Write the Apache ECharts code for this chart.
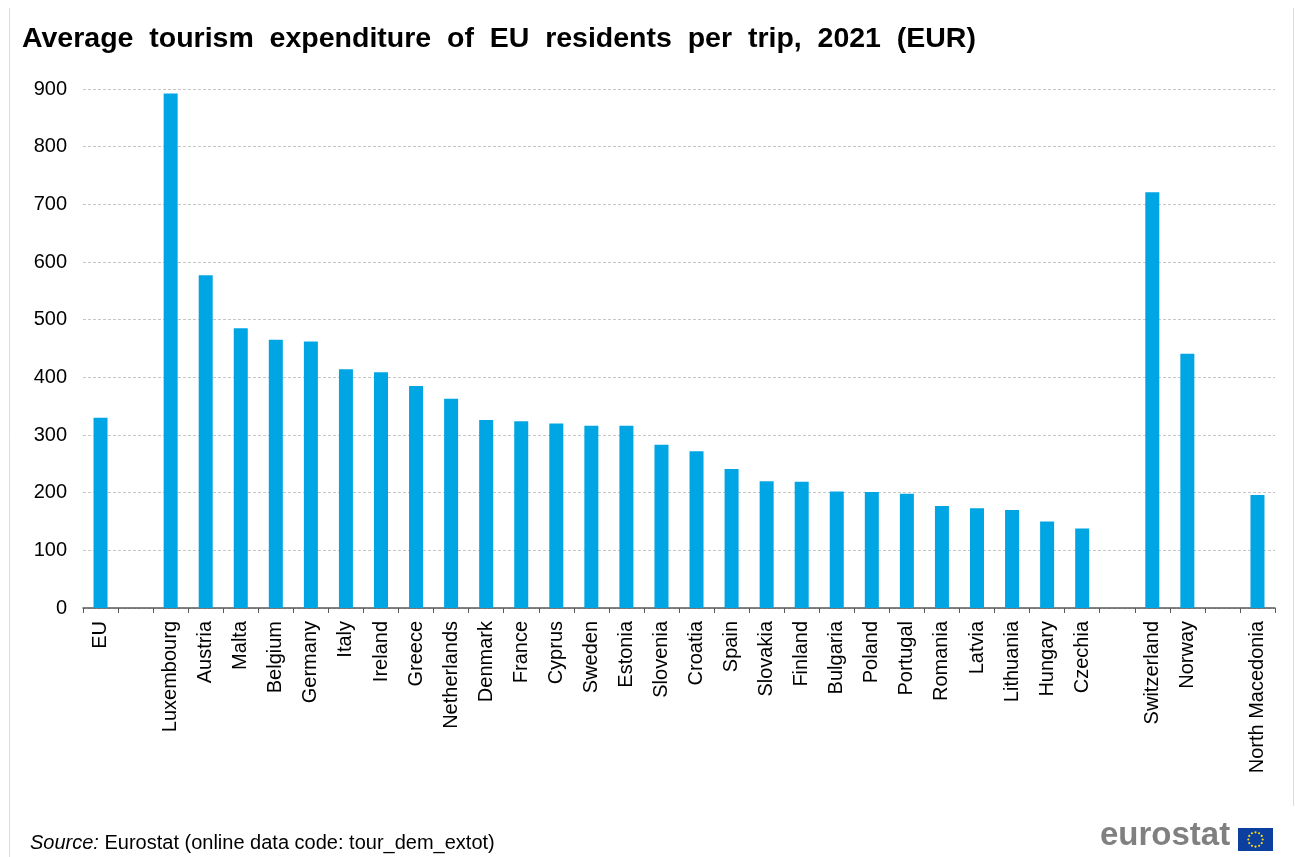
<!DOCTYPE html>
<html>
<head>
<meta charset="utf-8">
<title>Average tourism expenditure of EU residents per trip, 2021 (EUR)</title>
<script src="https://cdn.jsdelivr.net/npm/echarts@6/dist/echarts.min.js"></script>
<style>
  html, body { margin: 0; padding: 0; background: #ffffff; }
  #chart { width: 1295px; height: 857px; }
</style>
</head>
<body>
<div id="chart"></div>
<script>
// Countries in display order; empty strings are spacer slots between groups
const categories = [
  'EU', '',
  'Luxembourg', 'Austria', 'Malta', 'Belgium', 'Germany', 'Italy', 'Ireland',
  'Greece', 'Netherlands', 'Denmark', 'France', 'Cyprus', 'Sweden', 'Estonia',
  'Slovenia', 'Croatia', 'Spain', 'Slovakia', 'Finland', 'Bulgaria', 'Poland',
  'Portugal', 'Romania', 'Latvia', 'Lithuania', 'Hungary', 'Czechia', '',
  'Switzerland', 'Norway', '',
  'North Macedonia'
];

// Average expenditure per trip (EUR); null for the spacer slots
const expenditure = [
  330, null,
  892, 577, 485, 465, 462, 414, 409,
  385, 363, 326, 324, 320, 316, 316,
  283, 272, 241, 220, 219, 202, 201,
  198, 177, 173, 170, 150, 138, null,
  721, 441, null,
  196
];

const yTicks = { min: 0, max: 900, step: 100 };

const FONT = "'Liberation Sans', Arial, Helvetica, sans-serif";

// EU flag stars for the logo
const flagCx = 1255.5, flagCy = 839.5, starRing = 7.2;
const stars = [];
for (let i = 0; i < 12; i++) {
  const a = (i / 12) * Math.PI * 2;
  stars.push({
    type: 'circle',
    shape: { cx: flagCx + starRing * Math.cos(a), cy: flagCy + starRing * Math.sin(a), r: 1.1 },
    style: { fill: '#ffdd00' },
    z: 12
  });
}

const chart = echarts.init(document.getElementById('chart'), null, { renderer: 'canvas' });

chart.setOption({
  backgroundColor: '#ffffff',
  animation: false,
  title: {
    text: 'Average  tourism  expenditure  of  EU  residents  per  trip,  2021  (EUR)',
    left: 17,
    top: 20,
    textStyle: { fontFamily: FONT, fontSize: 28.5, fontWeight: 'bold', color: '#000000' }
  },
  grid: { left: 83, right: 20, top: 89, bottom: 249, containLabel: false },
  xAxis: {
    type: 'category',
    data: categories,
    boundaryGap: true,
    axisLine: { show: true, lineStyle: { color: '#595959', width: 1.5 } },
    axisTick: { show: true, interval: 0, length: 5, lineStyle: { color: '#595959', width: 1 } },
    axisLabel: {
      interval: 0,
      rotate: 90,
      margin: 13,
      fontFamily: FONT,
      fontSize: 20,
      color: '#000000'
    },
    splitLine: { show: false }
  },
  yAxis: {
    type: 'value',
    min: yTicks.min,
    max: yTicks.max,
    interval: yTicks.step,
    axisLine: { show: false },
    axisTick: { show: false },
    axisLabel: { margin: 16, fontFamily: FONT, fontSize: 20, color: '#000000' },
    splitLine: { show: true, lineStyle: { color: '#c6c6c6', width: 1, type: [3, 2] } }
  },
  series: [{
    type: 'bar',
    data: expenditure,
    barWidth: 14,
    itemStyle: { color: '#00a5e3' },
    emphasis: { disabled: true }
  }],
  graphic: [
    // frame edges
    { type: 'line', shape: { x1: 9.5, y1: 8, x2: 9.5, y2: 857 }, style: { stroke: '#dcdcdc', lineWidth: 1 }, z: 1 },
    { type: 'line', shape: { x1: 1293.5, y1: 8, x2: 1293.5, y2: 806 }, style: { stroke: '#dcdcdc', lineWidth: 1 }, z: 1 },
    // source note
    {
      type: 'text',
      left: 30,
      top: 833,
      style: {
        text: '{i|Source:} Eurostat (online data code: tour_dem_extot)',
        font: '20px ' + FONT,
        fill: '#000000',
        rich: { i: { fontStyle: 'italic', fontSize: 20, fontFamily: FONT, fill: '#000000' } }
      },
      z: 10
    },
    // logo word mark
    {
      type: 'text',
      left: 1100,
      top: 819,
      style: { text: 'eurostat', font: 'bold 33px ' + FONT, fill: '#808080' },
      z: 10
    },
    // logo flag
    { type: 'rect', shape: { x: 1238, y: 828, width: 35, height: 23 }, style: { fill: '#0b3fa0' }, z: 11 }
  ].concat(stars)
});
</script>
</body>
</html>
